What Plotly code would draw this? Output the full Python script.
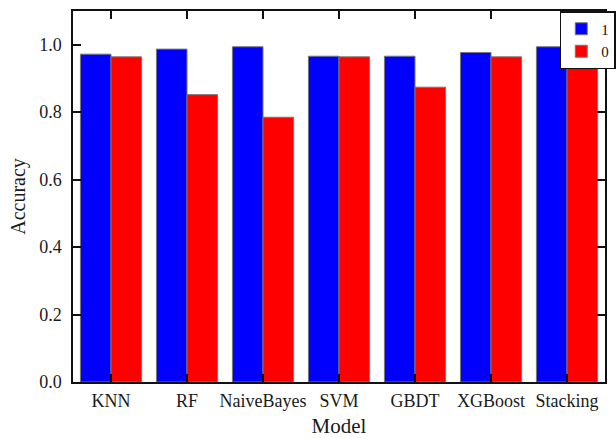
import plotly.graph_objects as go

models = ["KNN", "RF", "NaiveBayes", "SVM", "GBDT", "XGBoost", "Stacking"]
acc_1 = [0.972, 0.987, 0.994, 0.966, 0.966, 0.977, 0.994]
acc_0 = [0.964, 0.852, 0.785, 0.964, 0.874, 0.964, 0.964]
y_ticks = [0.0, 0.2, 0.4, 0.6, 0.8, 1.0]

FONT = "Liberation Serif, Times New Roman, serif"
AX = "#111111"

fig = go.Figure()
fig.add_trace(go.Bar(x=models, y=acc_1, name="1",
                     marker=dict(color="#0000FF", line=dict(color="#777777", width=1))))
fig.add_trace(go.Bar(x=models, y=acc_0, name="0",
                     marker=dict(color="#FF0000", line=dict(color="#777777", width=1))))

fig.update_layout(
    width=616, height=438,
    margin=dict(l=73, r=0, t=11, b=56),
    paper_bgcolor="white", plot_bgcolor="white",
    barmode="group", bargap=0.195, bargroupgap=0,
    font=dict(family=FONT, color="#1a1a1a", size=18),
    legend=dict(x=0.915, xanchor="left", y=1.0, yanchor="top",
                bgcolor="white", bordercolor=AX, borderwidth=1.5,
                font=dict(family=FONT, size=15, color="#111111"), tracegroupgap=0,
                itemwidth=30),
    xaxis=dict(
        range=[-0.5, 6.5], showgrid=False,
        showline=True, linecolor=AX, linewidth=1.5, mirror="allticks",
        ticks="inside", ticklen=8, tickwidth=1.5, tickcolor=AX,
        tickfont=dict(family=FONT, size=18), ticklabelstandoff=2,
        title=dict(text="Model", font=dict(family=FONT, size=21), standoff=11),
    ),
    yaxis=dict(
        range=[0, 1.1], showgrid=False, zeroline=False,
        tickvals=y_ticks, tickformat=".1f",
        showline=True, linecolor=AX, linewidth=1.5, mirror="allticks",
        ticks="inside", ticklen=8, tickwidth=1.5, tickcolor=AX,
        tickfont=dict(family=FONT, size=18), ticklabelstandoff=6,
        title=dict(text="Accuracy", font=dict(family=FONT, size=20), standoff=8),
    ),
)

fig.write_html("out.html",
               config={"displayModeBar": False},
               post_script="document.body.style.margin='0';document.body.style.overflow='hidden';")
